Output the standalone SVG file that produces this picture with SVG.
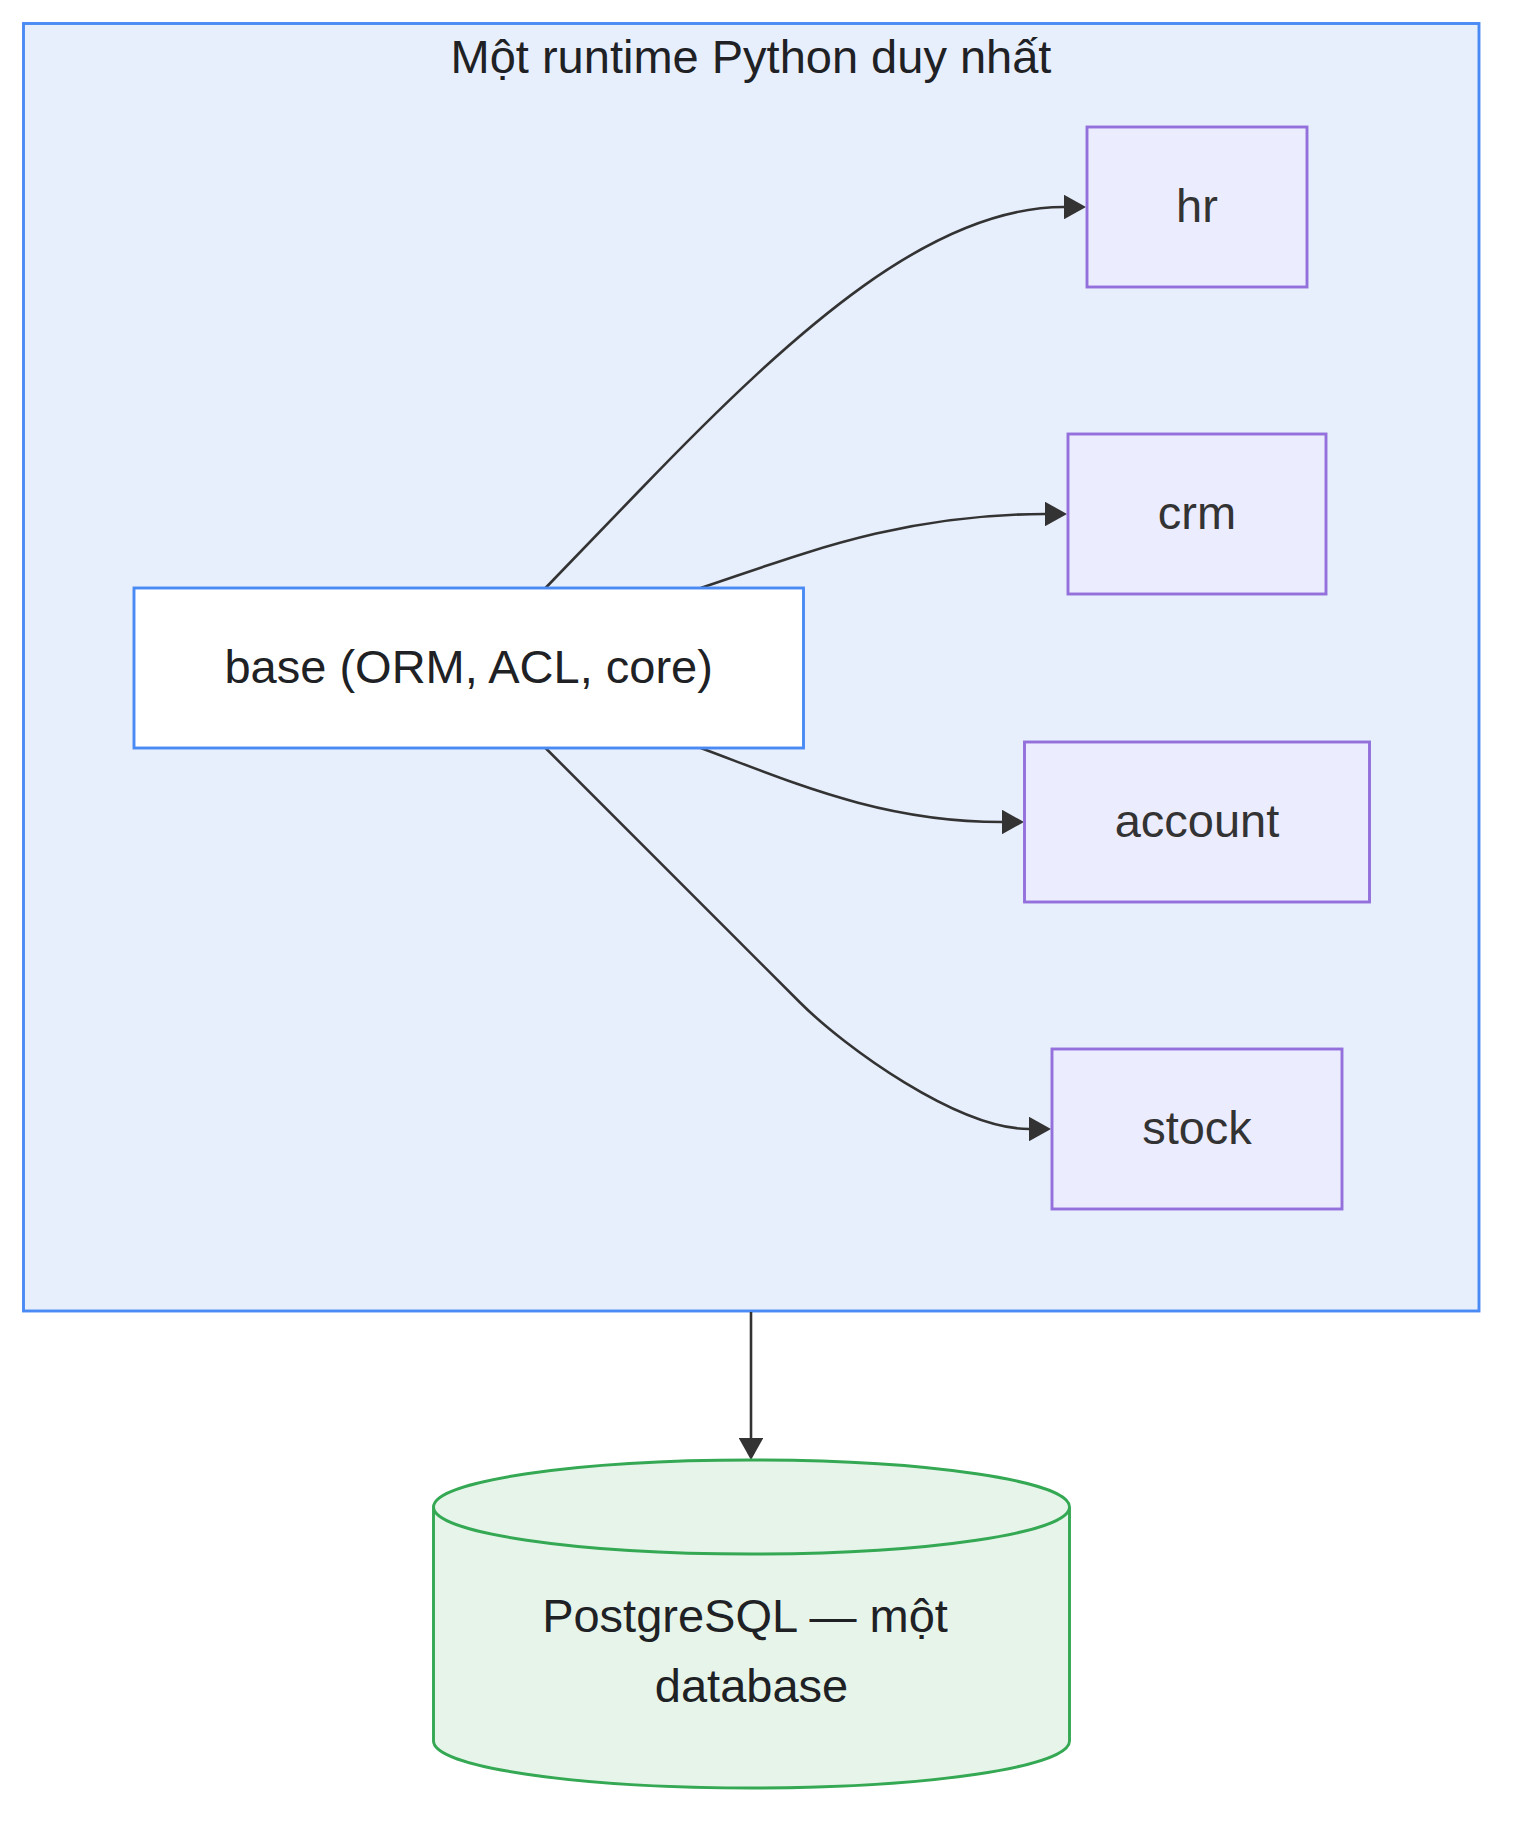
<svg xmlns="http://www.w3.org/2000/svg" width="1527" height="1839" viewBox="0 0 1527 1839">
<style>
  text { font-family: "Liberation Sans", Arial, sans-serif; font-size: 47px; text-anchor: middle; }
  .mod rect { fill: #ECECFF; stroke: #9370DB; stroke-width: 2.9; }
  .mod text { fill: #333333; }
  .dark { fill: #202124; }
  .edge { fill: none; stroke: #333333; stroke-width: 2.6; }
</style>
<defs>
  <marker id="arr" markerUnits="userSpaceOnUse" markerWidth="22" markerHeight="24.5" viewBox="0 0 10 10" refX="0" refY="5" orient="auto" preserveAspectRatio="none">
    <path d="M0,0 L10,5 L0,10 z" fill="#333333"/>
  </marker>
</defs>
<rect width="1527" height="1839" fill="#ffffff"/>

<g id="cluster-runtime">
  <rect x="23.5" y="23.5" width="1455.5" height="1287.5" fill="#e8effc" stroke="#4a8af4" stroke-width="2.9"/>
  <text class="dark" x="751" y="73">Một runtime Python duy nhất</text>
</g>

<g id="connectors">
  <path class="edge" d="M545.5,588 L640,490 C800,323.6 934,207 1064,207" marker-end="url(#arr)"/>
  <path class="edge" d="M700.7,588 C800,555 900,514 1045,514" marker-end="url(#arr)"/>
  <path class="edge" d="M700.7,748 C790,781 880,822 1002,822" marker-end="url(#arr)"/>
  <path class="edge" d="M545.5,748 L800,1002.5 C845,1047.5 958,1129 1029,1129" marker-end="url(#arr)"/>
  <path class="edge" d="M751,1312 L751,1438" marker-end="url(#arr)"/>
</g>

<g id="node-base">
  <rect x="134" y="588" width="669.5" height="160" fill="#ffffff" stroke="#4a8af4" stroke-width="2.9"/>
  <text class="dark" x="468.7" y="683">base (ORM, ACL, core)</text>
</g>

<g id="node-hr" class="mod">
  <rect x="1087" y="127" width="220" height="160"/>
  <text x="1197" y="222">hr</text>
</g>

<g id="node-crm" class="mod">
  <rect x="1068" y="434" width="258" height="160"/>
  <text x="1197" y="529">crm</text>
</g>

<g id="node-account" class="mod">
  <rect x="1024.5" y="742" width="345" height="160"/>
  <text x="1197" y="837">account</text>
</g>

<g id="node-stock" class="mod">
  <rect x="1052" y="1049" width="290" height="160"/>
  <text x="1197" y="1144">stock</text>
</g>

<g id="node-postgres">
  <path d="M433.5,1507 A318,47 0 0,0 1069.5,1507 A318,47 0 0,0 433.5,1507 L433.5,1741 A318,47 0 0,0 1069.5,1741 L1069.5,1507" fill="#e6f4ea" stroke="#34a853" stroke-width="2.9"/>
  <text class="dark" x="745" y="1632">PostgreSQL — một</text>
  <text class="dark" x="751.5" y="1702">database</text>
</g>
</svg>
